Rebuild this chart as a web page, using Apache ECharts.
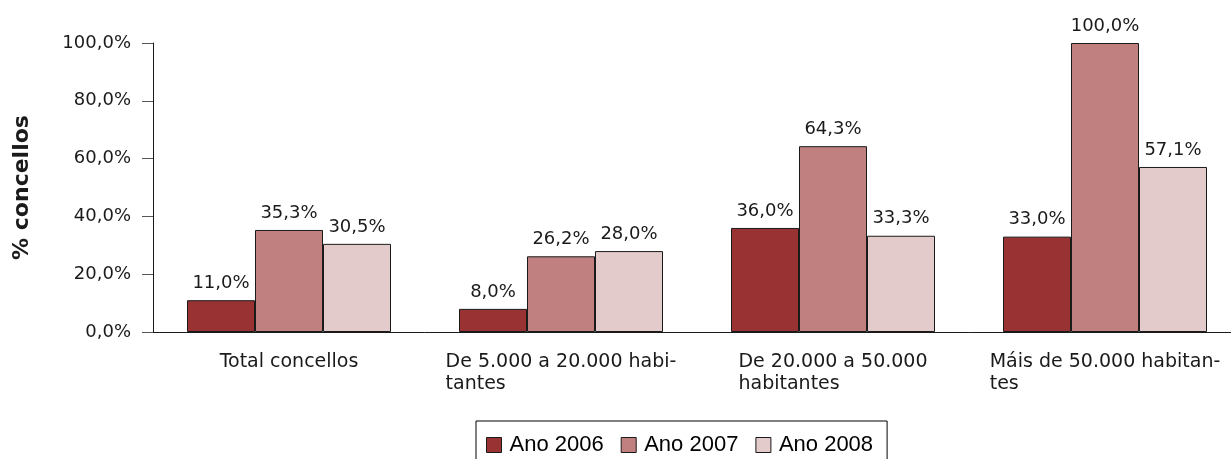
<!DOCTYPE html>
<html>
<head>
<meta charset="utf-8">
<script src="https://cdn.jsdelivr.net/npm/echarts@6/dist/echarts.min.js"></script>
<style>
  html, body { margin: 0; padding: 0; background: #fff; overflow: hidden; }
  #main { width: 1241px; height: 459px; }
</style>
</head>
<body>
<div id="main"></div>
<script>
var categories = ['Total concellos', 'De 5.000 a 20.000 habi-\ntantes', 'De 20.000 a 50.000\nhabitantes', 'Máis de 50.000 habitan-\ntes'];
var seriesNames = ['Ano 2006', 'Ano 2007', 'Ano 2008'];
var ano2006 = [11.0, 8.0, 36.0, 33.0];
var ano2007 = [35.3, 26.2, 64.3, 100.0];
var ano2008 = [30.5, 28.0, 33.3, 57.1];
var colors = ['#993333', '#c08080', '#e3cbcb'];

function pct(v) {
    return v.toFixed(1).replace('.', ',') + '%';
}

// the plot runs a little past the right edge of the window, so the canvas is wider
var myChart = echarts.init(document.getElementById('main'));

function makeSeries(name, data, i) {
    return {
        name: name,
        type: 'bar',
        data: data,
        barGap: '0%',
        barCategoryGap: '25%',
        itemStyle: { color: colors[i], borderColor: '#1a1a1a', borderWidth: 1 },
        label: {
            show: true,
            position: 'top',
            distance: 8,
            fontFamily: 'DejaVu Sans',
            fontSize: 18,
            color: '#1a1a1a',
            formatter: function (p) { return pct(p.value); }
        }
    };
}

var opt = {
    animation: false,
    textStyle: { fontFamily: 'DejaVu Sans' },
    grid: { left: 153, top: 43, bottom: 127, right: 0, containLabel: false },
    legend: {
        data: seriesNames,
        left: 476,
        top: 421,
        padding: [13, 14, 13, 10],
        itemGap: 17,
        itemWidth: 15,
        itemHeight: 15,
        icon: 'rect',
        borderColor: '#000',
        borderWidth: 1,
        itemStyle: { borderColor: '#1a1a1a', borderWidth: 1 },
        textStyle: { fontFamily: 'Liberation Sans', fontSize: 22, color: '#000', padding: [0, 0, 0, 3] }
    },
    xAxis: {
        type: 'category',
        data: categories,
        axisLine: { lineStyle: { color: '#1a1a1a', width: 1 } },
        axisTick: { alignWithLabel: true, length: 11, lineStyle: { color: '#555' } },
        axisLabel: {
            interval: 0,
            margin: 19,
            fontSize: 19,
            lineHeight: 22,
            color: '#1a1a1a',
            formatter: function (v) {
                return v.split('\n').map(function (s) { return '{l|' + s + '}'; }).join('\n');
            },
            rich: {
                l: { align: 'left', fontFamily: 'DejaVu Sans', fontSize: 19, lineHeight: 22, color: '#1a1a1a' }
            }
        }
    },
    yAxis: {
        type: 'value',
        min: 0,
        max: 100,
        interval: 20,
        name: '% concellos',
        nameLocation: 'middle',
        nameGap: 120,
        nameTextStyle: { fontFamily: 'DejaVu Sans', fontWeight: 'bold', fontSize: 22, color: '#1a1a1a' },
        axisLine: { show: true, lineStyle: { color: '#1a1a1a', width: 1 } },
        axisTick: { show: true, length: 11, lineStyle: { color: '#555' } },
        splitLine: { show: false },
        axisLabel: {
            margin: 22,
            fontSize: 18,
            color: '#1a1a1a',
            formatter: function (v) { return pct(v); }
        }
    },
    series: [
        makeSeries(seriesNames[0], ano2006, 0),
        makeSeries(seriesNames[1], ano2007, 1),
        makeSeries(seriesNames[2], ano2008, 2)
    ]
};
myChart.setOption(opt);
</script>
</body>
</html>
